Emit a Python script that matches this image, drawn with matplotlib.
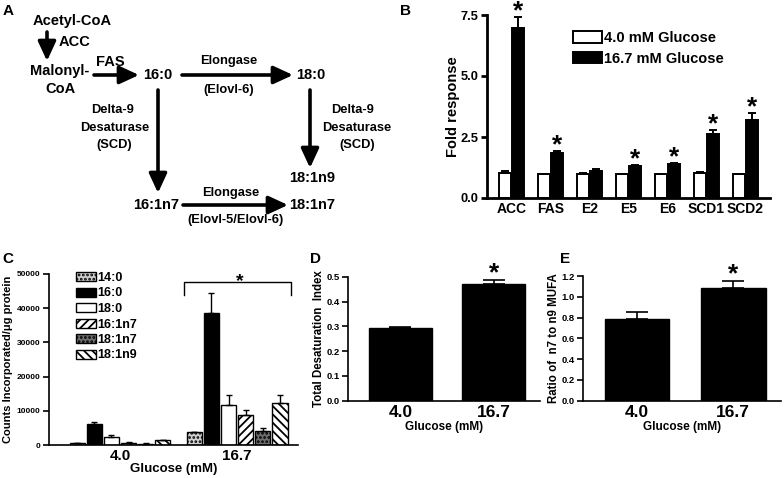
"""Glucose-driven lipogenesis figure: pathway diagram plus four bar panels."""
import numpy as np
import matplotlib

matplotlib.use("Agg")
import matplotlib.pyplot as plt

plt.rcParams["font.family"] = ["Liberation Sans", "DejaVu Sans"]
plt.rcParams["font.weight"] = "bold"
plt.rcParams["axes.labelweight"] = "bold"
plt.rcParams["hatch.linewidth"] = 1.3

W, H = 784, 478

# panel B: gene expression fold response
genes = ["ACC", "FAS", "E2", "E5", "E6", "SCD1", "SCD2"]
fold_low = [1.03, 1.0, 1.0, 1.0, 1.0, 1.03, 1.0]
fold_low_err = [0.08, 0.0, 0.03, 0.0, 0.0, 0.05, 0.0]
fold_high = [6.95, 1.83, 1.09, 1.33, 1.38, 2.62, 3.2]
fold_high_err = [0.48, 0.09, 0.1, 0.04, 0.05, 0.18, 0.3]
fold_sig = [True, True, False, True, True, True, True]
series_b = ["4.0 mM Glucose", "16.7 mM Glucose"]

# panel C: label incorporation per fatty acid
glucose = ["4.0", "16.7"]
fatty_acids = ["14:0", "16:0", "18:0", "16:1n7", "18:1n7", "18:1n9"]
counts_low = [500, 6000, 2400, 700, 400, 1400]
counts_low_err = [100, 600, 500, 150, 100, 200]
counts_high = [3700, 38500, 11800, 8900, 4000, 12200]
counts_high_err = [150, 6000, 2800, 1300, 900, 2400]

# panels D and E
desat = [0.292, 0.47]
desat_err = [0.007, 0.017]
ratio = [0.785, 1.08]
ratio_err = [0.07, 0.068]


def px_axes(fig, left, top, right, bottom):
    return fig.add_axes([left / W, 1 - bottom / H, (right - left) / W, (bottom - top) / H])


def style_axes(ax, lw=1.2, fs=6.5):
    ax.spines["top"].set_visible(False)
    ax.spines["right"].set_visible(False)
    ax.spines["left"].set_linewidth(lw)
    ax.spines["bottom"].set_linewidth(lw)
    ax.tick_params(axis="y", direction="out", length=4, width=lw, labelsize=fs, pad=2)
    ax.tick_params(axis="x", length=0, pad=3)


def star(ax, x, y, size, drop):
    # asterisk glyph sits high in the em box, so pull the baseline below the cap
    ax.annotate("*", xy=(x, y), xytext=(0, -drop), textcoords="offset points",
                ha="center", va="baseline", fontsize=size, fontweight="bold",
                annotation_clip=False)


fig = plt.figure(figsize=(W / 100, H / 100), dpi=100)

# ---- panel A: pathway diagram (pixel layout)
axa = px_axes(fig, 0, 0, 420, 250)
axa.set_xlim(0, 420)
axa.set_ylim(250, 0)
axa.axis("off")

big_txt = [
    ("Acetyl-CoA", 72, 21), ("ACC", 75, 42), ("Malonyl-", 60, 71), ("CoA", 60, 89),
    ("FAS", 110, 62), ("16:0", 158, 75), ("18:0", 311, 75), ("18:1n9", 312, 178),
    ("16:1n7", 156, 205), ("18:1n7", 312, 205),
]
for s, x, y in big_txt:
    axa.text(x, y, s, ha="center", va="center", fontsize=10.5, fontweight="bold")

small_txt = [
    ("Elongase", 229, 61), ("(Elovl-6)", 229, 90),
    ("Delta-9", 113, 110), ("Desaturase", 115, 128), ("(SCD)", 114, 145),
    ("Delta-9", 353, 110), ("Desaturase", 357, 128), ("(SCD)", 357, 145),
    ("Elongase", 231, 193), ("(Elovl-5/Elovl-6)", 235, 220),
]
for s, x, y in small_txt:
    axa.text(x, y, s, ha="center", va="center", fontsize=9.3, fontweight="bold")

arrows = [
    ((47, 32), (47, 61)), ((94, 75), (139, 75)), ((182, 75), (293, 75)),
    ((158, 90), (158, 193)), ((310, 90), (310, 168)), ((183, 205), (288, 205)),
]
for (x0, y0), (x1, y1) in arrows:
    axa.annotate("", xy=(x1, y1), xytext=(x0, y0),
                 arrowprops=dict(arrowstyle="-|>,head_length=0.65,head_width=0.3",
                                 lw=2.6, color="k", shrinkA=0, shrinkB=0,
                                 mutation_scale=18))

# panel letters
for s, x, y in [("A", 3, 4), ("B", 400, 4), ("C", 2, 252), ("D", 310, 252), ("E", 560, 252)]:
    fig.text(x / W, 1 - y / H, s, ha="left", va="top", fontsize=11, fontweight="bold")

# ---- panel B
axb = px_axes(fig, 487, 15, 770, 198)
style_axes(axb, lw=2.0, fs=9.3)
xb = np.arange(len(genes))
bw = 0.31
zeros_b = np.zeros(len(genes))
axb.bar(xb - 0.165, fold_low, bw, color="white", edgecolor="k", lw=1.4,
        yerr=[zeros_b, fold_low_err], capsize=3,
        error_kw=dict(elinewidth=1.4, capthick=1.4, ecolor="k"), label=series_b[0])
axb.bar(xb + 0.165, fold_high, bw, color="k", edgecolor="k", lw=1.4,
        yerr=[zeros_b, fold_high_err], capsize=3,
        error_kw=dict(elinewidth=1.4, capthick=1.4, ecolor="k"), label=series_b[1])
for i, sig in enumerate(fold_sig):
    if sig:
        star(axb, xb[i] + 0.165, fold_high[i] + fold_high_err[i], 19, 1)
axb.set_xlim(-0.63, 6.63)
axb.set_ylim(0, 7.5)
axb.set_yticks([0, 2.5, 5.0, 7.5])
axb.set_yticklabels(["0.0", "2.5", "5.0", "7.5"])
axb.set_xticks(xb)
axb.set_xticklabels(genes, fontsize=10)
axb.set_ylabel("Fold response", fontsize=10.5, labelpad=0.5)
axb.legend(loc="upper left", bbox_to_anchor=(573 / W, 1 - 31 / H), bbox_transform=fig.transFigure,
           frameon=False, fontsize=10.5, handlelength=2.0, handleheight=0.8,
           handletextpad=0.15, labelspacing=0.45, borderpad=0, borderaxespad=0)

# ---- panel C
axc = px_axes(fig, 49, 274, 298, 445)
style_axes(axc, lw=1.2, fs=6)
xc = np.arange(len(glucose))
faces = ["#cfcfcf", "k", "white", "white", "#6e6e6e", "white"]
hatches = ["....", None, None, "////", "....", "\\\\\\\\"]
step = 0.146
for j, fa in enumerate(fatty_acids):
    off = (j - 2.5) * step
    axc.bar(xc + off, [counts_low[j], counts_high[j]], 0.131, color=faces[j], edgecolor="k",
            hatch=hatches[j], lw=1.0, yerr=[[0, 0], [counts_low_err[j], counts_high_err[j]]],
            capsize=2.5, error_kw=dict(elinewidth=1.0, capthick=1.0, ecolor="k"), label=fa)
axc.plot([0.547, 0.547, 1.462, 1.462], [43900, 47700, 47700, 43900], color="k", lw=1.0, clip_on=False)
star(axc, 1.02, 47700, 14, 3)
axc.set_xlim(-0.606, 1.52)
axc.set_ylim(0, 50000)
axc.set_yticks(np.arange(0, 50001, 10000))
axc.set_xticks(xc)
axc.set_xticklabels(glucose, fontsize=11)
axc.set_xlabel("Glucose (mM)", fontsize=9.5, labelpad=0)
axc.set_ylabel("Counts Incorporated/\u03bcg protein", fontsize=8, labelpad=3)
axc.legend(loc="upper left", bbox_to_anchor=(76 / W, 1 - 272 / H), bbox_transform=fig.transFigure,
           frameon=False, fontsize=9, handlelength=1.6, handleheight=0.75,
           handletextpad=0.1, labelspacing=0.28, borderpad=0, borderaxespad=0)

# ---- panels D and E
for box, vals, errs, ylab, ytop, ystep in [
    ((348, 276.7, 540, 400.7), desat, desat_err, "Total Desaturation  Index", 0.5, 0.1),
    ((583, 276, 781, 400.7), ratio, ratio_err, "Ratio of  n7 to n9 MUFA", 1.2, 0.2),
]:
    ax = px_axes(fig, *box)
    style_axes(ax, lw=1.2, fs=6.8)
    xd = np.arange(len(glucose))
    ax.bar(xd, vals, 0.67, color="k", edgecolor="k",
           yerr=[[0, 0], errs], capsize=8, error_kw=dict(elinewidth=1.2, capthick=1.2, ecolor="k"))
    star(ax, xd[1], vals[1] + errs[1], 19, 0)
    ax.set_xlim(-0.56, 1.495)
    ax.set_ylim(0, ytop)
    ticks = np.arange(0, ytop + 1e-9, ystep)
    ax.set_yticks(ticks)
    ax.set_yticklabels([f"{t:.1f}" for t in ticks])
    ax.set_xticks(xd)
    ax.set_xticklabels(glucose, fontsize=12.5)
    ax.set_xlabel("Glucose (mM)", fontsize=8.5, labelpad=1)
    ax.set_ylabel(ylab, fontsize=8.3, labelpad=1)

fig.savefig("out.png", dpi=100)
